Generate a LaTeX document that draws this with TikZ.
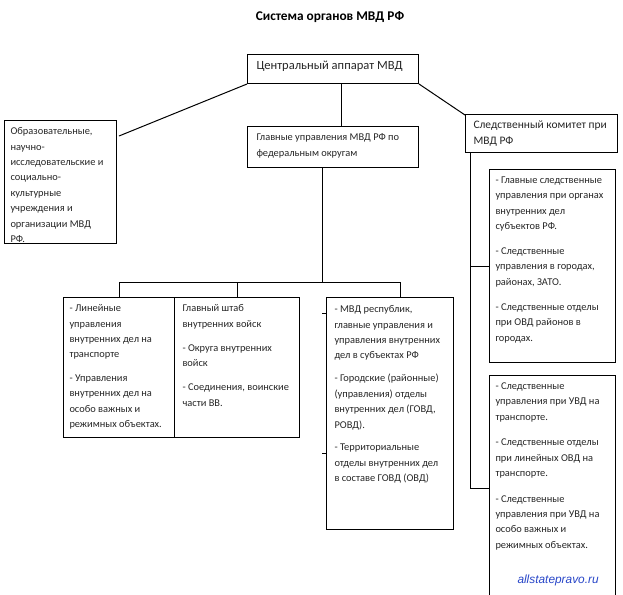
\documentclass[tikz,border=0pt]{standalone}
\usepackage{fontspec}
\setmainfont{Carlito}
\newfontfamily\sitefont{Liberation Sans}
\usetikzlibrary{calc}

\tikzset{every picture/.style={line width=0.75pt}}
\tikzset{
  orgbox/.style={draw, rectangle, inner sep=0pt, anchor=north west},
  boxsize/.style 2 args={minimum width=#1*0.75pt, minimum height=#2*0.75pt},
  orgtext/.style={anchor=north west, inner sep=0.75pt, align=left,
    text=black!85, font=\fontsize{7.8}{11.6}\selectfont},
}

\begin{document}
\begin{tikzpicture}[x=0.75pt,y=0.75pt,yscale=-1,xscale=1]
\useasboundingbox (0,0) rectangle (623,594);

% title
\draw (330,17) node [inner sep=0.75pt, font=\fontsize{10}{12}\selectfont\bfseries] (title) {Система органов МВД РФ};

% boxes
\node [orgbox, boxsize={171}{29}]  (central) at (247,54)  {};
\node [orgbox, boxsize={112}{123}] (edu)     at (4,120)   {};
\node [orgbox, boxsize={171}{41}]  (okrug)   at (247,126) {};
\node [orgbox, boxsize={152}{38}]  (sk)      at (465,114) {};
\node [orgbox, boxsize={126}{193}] (sledA)   at (489,169) {};
\node [orgbox, boxsize={126}{225}] (sledB)   at (489,375) {};
\node [orgbox, boxsize={111}{140}] (lin)     at (63,297)  {};
\node [orgbox, boxsize={125}{140}] (vv)      at (174,297) {};
\node [orgbox, boxsize={127}{232}] (mvd)     at (326,297) {};

% texts
\draw (255,60) node [orgtext, font=\fontsize{9.4}{11}\selectfont] (central-t) {Центральный аппарат МВД};
\draw (255,132) node [orgtext, font=\fontsize{7.8}{12}\selectfont] (okrug-t) {Главные управления МВД РФ по\\федеральным округам};
\draw (9,126) node [orgtext] (edu-t) {Образовательные,\\научно-\\исследовательские и\\социально-\\культурные\\учреждения и\\организации МВД\\РФ.};
\draw (472,119) node [orgtext, font=\fontsize{8.6}{12}\selectfont] (sk-t) {Следственный комитет при\\МВД РФ};
\draw (494,175) node [orgtext] (sledA-t) {- Главные следственные\\управления при органах\\внутренних дел\\субъектов РФ.\\[7pt]
- Следственные\\управления в городах,\\районах, ЗАТО.\\[7pt]
- Следственные отделы\\при ОВД районов в\\городах.};
\draw (494,381) node [orgtext] (sledB-t) {- Следственные\\управления при УВД на\\транспорте.\\[7.5pt]
- Следственные отделы\\при линейных ОВД на\\транспорте.\\[7.5pt]
- Следственные\\управления при УВД на\\особо важных и\\режимных объектах.};
\draw (68,303) node [orgtext] (lin-t) {- Линейные\\управления\\внутренних дел на\\транспорте\\[6pt]
- Управления\\внутренних дел на\\особо важных и\\режимных объектах.};
\draw (181,303) node [orgtext] (vv-t) {Главный штаб\\внутренних войск\\[6.5pt]
- Округа внутренних\\войск\\[6.5pt]
- Соединения, воинские\\части ВВ.};
\draw (333,304) node [orgtext] (mvd-t) {- МВД республик,\\главные управления и\\управления внутренних\\дел в субъектах РФ\\[5.5pt]
- Городские (районные)\\(управления) отделы\\внутренних дел (ГОВД,\\РОВД).\\[5.5pt]
- Территориальные\\отделы внутренних дел\\в составе ГОВД (ОВД)};

\draw (516,573) node [anchor=north west, inner sep=0.75pt, text={rgb,255:red,40;green,70;blue,200}, font=\sitefont\itshape\fontsize{8.9}{10}\selectfont] (site) {allstatepravo.ru};

% connectors
\coordinate (bus) at (0,282);
\draw (central.south west) -- ($(edu.north east)+(2,16)$);
\draw ($(central.south west)!0.55!(central.south east)$) -- ($(okrug.north west)!0.55!(okrug.north east)$);
\draw (central.south east) -- ($(sk.north west)+(0,1)$);

\draw ($(okrug.south west)!0.44!(okrug.south east)$) coordinate (drop) -- (drop |- bus);
\draw ($(mvd.north west)!0.58!(mvd.north east)$) coordinate (mvd-in) |- (lin.north |- bus) -- (lin.north);
\draw (vv.north |- bus) -- (vv.north);
\foreach \y in {313,453}
  \draw ([xshift=-3pt]mvd.west |- 0,\y) -- (mvd.west |- 0,\y);

\draw ($(sk.south west)+(5,0)$) coordinate (trunk) -- (trunk |- sledB.west) -- (sledB.west);
\draw (trunk |- sledA.west) -- (sledA.west);

\end{tikzpicture}
\end{document}
